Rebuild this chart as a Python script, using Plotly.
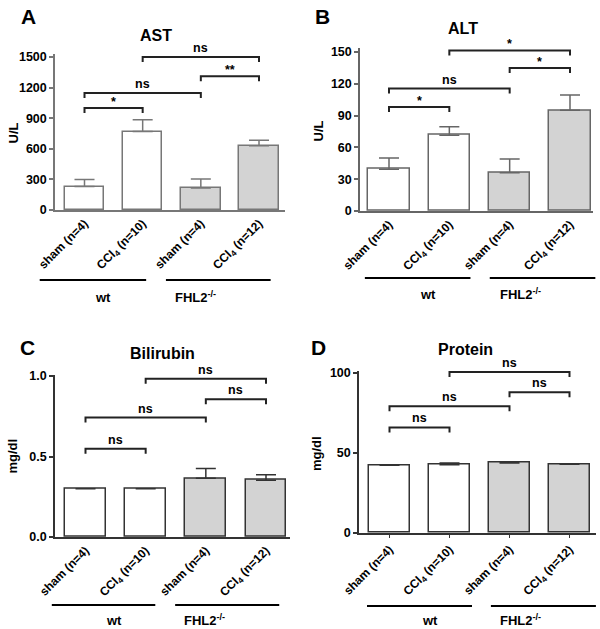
import plotly.graph_objects as go

W, H = 600, 629
FONT = "Liberation Sans, Arial, sans-serif"

categories = ["sham (n=4)", "CCl<sub>4</sub> (n=10)", "sham (n=4)", "CCl<sub>4</sub> (n=12)"]
groups = ["wt", "FHL2<sup>-/-</sup>"]
bar_fill = ["white", "white", "#d3d3d3", "#d3d3d3"]

ast_mean = [230, 770, 215, 630]
ast_err = [70, 115, 90, 55]
alt_mean = [39.5, 71.5, 36, 95]
alt_err = [10.5, 8, 13, 14.5]
bili_mean = [0.30, 0.30, 0.365, 0.353]
bili_err = [0, 0, 0.06, 0.033]
prot_mean = [42.3, 42.7, 43.8, 42.9]
prot_err = [0, 1.0, 0.8, 0.2]

# significance brackets: (from bar, to bar, height, label)
ast_sig = [(0, 1, 1000, "*"), (0, 2, 1148, "ns"), (2, 3, 1311, "**"), (1, 3, 1500, "ns")]
alt_sig = [(0, 1, 98, "*"), (0, 2, 115.5, "ns"), (2, 3, 135, "*"), (1, 3, 151.5, "*")]
bili_sig = [(0, 1, 0.548, "ns"), (0, 2, 0.742, "ns"), (2, 3, 0.855, "ns"), (1, 3, 0.983, "ns")]
prot_sig = [(0, 1, 66, "ns"), (0, 2, 79.2, "ns"), (2, 3, 88, "ns"), (1, 3, 100.6, "ns")]

ast_ticks = [0, 300, 600, 900, 1200, 1500]
alt_ticks = [0, 30, 60, 90, 120, 150]
bili_ticks = [0, 0.5, 1.0]
prot_ticks = [0, 50, 100]

panels = [
    dict(letter="A", title="AST", ytitle="U/L", mean=ast_mean, err=ast_err, sig=ast_sig,
         yticks=ast_ticks, fmt="", ymax=1530, edge="#777",
         left=55, c0=84.5, c3=259, right=285, y0=210, ytop=57,
         letter_xy=(28, 16), title_xy=(156, 35), ytitle_x=13,
         spans=[(-0.77, 1.06), (1.40, 3.20)], gline_y=280, glabel_y=297, xticks=False),
    dict(letter="B", title="ALT", ytitle="U/L", mean=alt_mean, err=alt_err, sig=alt_sig,
         yticks=alt_ticks, fmt="", ymax=154, edge="#666",
         left=360, c0=389, c3=570, right=593, y0=211, ytop=52,
         letter_xy=(322, 16), title_xy=(463, 29), ytitle_x=318,
         spans=[(-0.40, 1.35), (1.67, 3.42)], gline_y=278, glabel_y=294, xticks=False),
    dict(letter="C", title="Bilirubin", ytitle="mg/dl", mean=bili_mean, err=bili_err, sig=bili_sig,
         yticks=bili_ticks, fmt=".1f", ymax=1.008, edge="#333",
         left=55, c0=85.5, c3=266, right=290, y0=537, ytop=376,
         letter_xy=(27, 348), title_xy=(162, 353), ytitle_x=12,
         spans=[(-0.56, 1.16), (1.49, 3.22)], gline_y=605, glabel_y=620, xticks=False),
    dict(letter="D", title="Protein", ytitle="mg/dl", mean=prot_mean, err=prot_err, sig=prot_sig,
         yticks=prot_ticks, fmt="", ymax=101.5, edge="#333",
         left=359, c0=389.5, c3=569.5, right=596, y0=533, ytop=373,
         letter_xy=(318, 348), title_xy=(465, 350), ytitle_x=316,
         spans=[(-0.375, 1.375), (1.69, 3.44)], gline_y=606, glabel_y=620, xticks=True),
]

fig = go.Figure()
shapes = []
annotations = []
layout = {}

for k, p in enumerate(panels):
    n = "" if k == 0 else str(k + 1)
    xa, ya = "x" + n, "y" + n
    ppu = (p["c3"] - p["c0"]) / 3.0
    r0 = -(p["c0"] - p["left"]) / ppu
    r1 = 3 + (p["right"] - p["c3"]) / ppu
    top_val = p["yticks"][-1]
    ppv = (p["y0"] - p["ytop"]) / top_val
    ytop_px = p["y0"] - p["ymax"] * ppv
    layout["xaxis" + n] = dict(
        domain=[p["left"] / W, p["right"] / W], range=[r0, r1], anchor=ya,
        tickvals=[0, 1, 2, 3], ticktext=categories, tickangle=-45,
        tickfont=dict(family=FONT, size=12, color="black", weight="bold"),
        showline=True, linecolor=p["edge"], linewidth=1.5,
        ticks="outside" if p["xticks"] else "", ticklen=3, tickwidth=1, tickcolor="#333",
        showgrid=False, zeroline=False, fixedrange=True, automargin=False)
    layout["yaxis" + n] = dict(
        domain=[1 - p["y0"] / H, 1 - ytop_px / H], range=[0, p["ymax"]], anchor=xa,
        tickvals=p["yticks"], tickformat=p["fmt"],
        tickfont=dict(family=FONT, size=12.5, color="black", weight="bold"),
        showline=True, linecolor=p["edge"], linewidth=1.5,
        ticks="outside", ticklen=4, tickwidth=1.5, tickcolor=p["edge"],
        showgrid=False, zeroline=False, fixedrange=True, automargin=False)

    fig.add_trace(go.Bar(
        x=[0, 1, 2, 3], y=p["mean"], width=0.68, xaxis=xa, yaxis=ya,
        marker=dict(color=bar_fill, line=dict(color=p["edge"], width=1.5)),
        error_y=dict(type="data", array=p["err"], arrayminus=[0, 0, 0, 0], symmetric=False,
                     color=p["edge"], thickness=1.5, width=10),
        showlegend=False, hoverinfo="skip"))

    drop = 5 / ppv
    for (i, j, yv, lab) in p["sig"]:
        shapes.append(dict(type="path", xref=xa, yref=ya,
                           path=f"M {i},{yv - drop} L {i},{yv} L {j},{yv} L {j},{yv - drop}",
                           line=dict(color="#222", width=2)))
        annotations.append(dict(x=(i + j) / 2, y=yv, xref=xa, yref=ya, text=lab,
                                showarrow=False, yanchor="bottom",
                                yshift=-3 if "*" in lab else 0,
                                font=dict(family=FONT, size=12.5, color="black", weight="bold")))

    for (s0, s1), g in zip(p["spans"], groups):
        f0 = (s0 - r0) / (r1 - r0)
        f1 = (s1 - r0) / (r1 - r0)
        shapes.append(dict(type="line", xref=xa + " domain", yref="paper",
                           x0=f0, x1=f1, y0=1 - p["gline_y"] / H, y1=1 - p["gline_y"] / H,
                           line=dict(color="black", width=2)))
        annotations.append(dict(x=(f0 + f1) / 2, y=1 - p["glabel_y"] / H, xref=xa + " domain",
                                yref="paper", text=g, showarrow=False, yanchor="middle",
                                font=dict(family=FONT, size=13, color="black", weight="bold")))

    annotations.append(dict(x=p["letter_xy"][0] / W, y=1 - p["letter_xy"][1] / H, xref="paper",
                            yref="paper", text=p["letter"], showarrow=False,
                            xanchor="center", yanchor="middle",
                            font=dict(family=FONT, size=21, color="black", weight="bold")))
    annotations.append(dict(x=p["title_xy"][0] / W, y=1 - p["title_xy"][1] / H, xref="paper",
                            yref="paper", text=p["title"], showarrow=False,
                            xanchor="center", yanchor="middle",
                            font=dict(family=FONT, size=16, color="black", weight="bold")))
    annotations.append(dict(x=p["ytitle_x"] / W, y=1 - (p["y0"] + p["ytop"]) / 2 / H, xref="paper",
                            yref="paper", text=p["ytitle"], showarrow=False, textangle=-90,
                            xanchor="center", yanchor="middle",
                            font=dict(family=FONT, size=13, color="black", weight="bold")))

fig.update_layout(
    width=W, height=H, autosize=False,
    margin=dict(l=0, r=0, t=0, b=0, pad=0, autoexpand=False),
    paper_bgcolor="white", plot_bgcolor="white",
    shapes=shapes, annotations=annotations, bargap=0,
    **layout)

fig.write_html("out.html", config={"displayModeBar": False},
               post_script="document.body.style.margin='0';")
